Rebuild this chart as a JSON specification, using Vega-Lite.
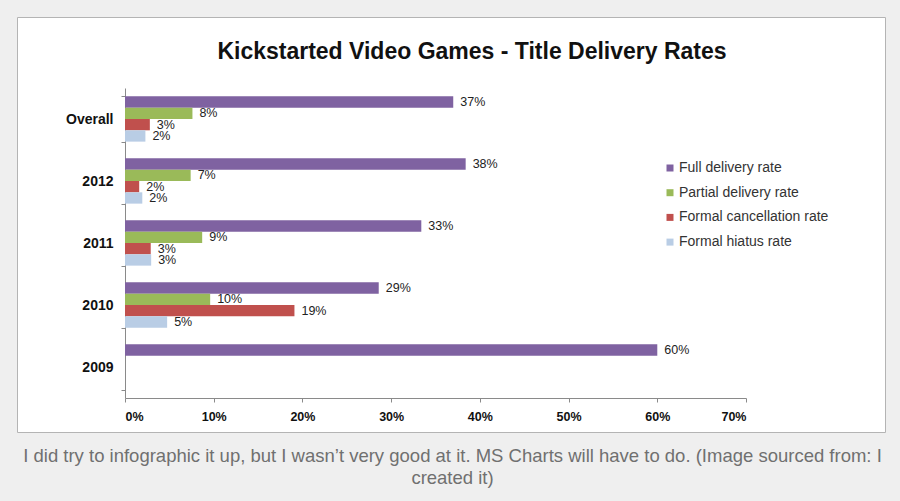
{
  "$schema": "https://vega.github.io/schema/vega-lite/v6.json",
  "autosize": {"type": "none"},
  "width": 868,
  "height": 415,
  "padding": {"left": 17, "top": 17, "right": 15, "bottom": 69},
  "background": "#efefef",
  "config": {
    "font": "Liberation Sans",
    "view": {"fill": "white", "stroke": "#b4b4b4", "strokeWidth": 1}
  },
  "title": {
    "text": "Kickstarted Video Games - Title Delivery Rates",
    "font": "Liberation Sans",
    "fontSize": 23,
    "fontWeight": "bold",
    "color": "#111111",
    "anchor": "middle",
    "frame": "group",
    "offset": 0,
    "dx": 21,
    "dy": 54
  },
  "data": {
    "values": [
      {"cat": "Overall", "series": "Full delivery rate", "v": 0.370},
      {"cat": "Overall", "series": "Partial delivery rate", "v": 0.076},
      {"cat": "Overall", "series": "Formal cancellation rate", "v": 0.028},
      {"cat": "Overall", "series": "Formal hiatus rate", "v": 0.023},
      {"cat": "2012", "series": "Full delivery rate", "v": 0.384},
      {"cat": "2012", "series": "Partial delivery rate", "v": 0.074},
      {"cat": "2012", "series": "Formal cancellation rate", "v": 0.016},
      {"cat": "2012", "series": "Formal hiatus rate", "v": 0.0195},
      {"cat": "2011", "series": "Full delivery rate", "v": 0.334},
      {"cat": "2011", "series": "Partial delivery rate", "v": 0.087},
      {"cat": "2011", "series": "Formal cancellation rate", "v": 0.029},
      {"cat": "2011", "series": "Formal hiatus rate", "v": 0.0295},
      {"cat": "2010", "series": "Full delivery rate", "v": 0.286},
      {"cat": "2010", "series": "Partial delivery rate", "v": 0.096},
      {"cat": "2010", "series": "Formal cancellation rate", "v": 0.191},
      {"cat": "2010", "series": "Formal hiatus rate", "v": 0.0475},
      {"cat": "2009", "series": "Full delivery rate", "v": 0.600}
    ]
  },
  "encoding": {
    "y": {
      "field": "cat",
      "type": "nominal",
      "sort": ["Overall", "2012", "2011", "2010", "2009"],
      "scale": {"range": [71, 381], "paddingInner": 0.27, "paddingOuter": 0.135},
      "axis": {
        "title": null,
        "offset": -108,
        "domainColor": "#8a8a8a",
        "tickColor": "#8a8a8a",
        "tickBand": "extent",
        "tickSize": 4,
        "labelPadding": 8,
        "labelFont": "Liberation Sans",
        "labelFontSize": 14,
        "labelFontWeight": "bold",
        "labelColor": "#111111"
      }
    },
    "yOffset": {
      "field": "series",
      "type": "nominal",
      "sort": ["Full delivery rate", "Partial delivery rate", "Formal cancellation rate", "Formal hiatus rate"],
      "scale": {"paddingInner": 0, "paddingOuter": 0}
    },
    "x": {
      "field": "v",
      "type": "quantitative",
      "scale": {"domain": [0, 0.7], "range": [108, 729], "nice": false},
      "axis": {
        "format": ".0%",
        "values": [0, 0.1, 0.2, 0.3, 0.4, 0.5, 0.6, 0.7],
        "offset": -34,
        "grid": false,
        "domainColor": "#8a8a8a",
        "tickColor": "#8a8a8a",
        "tickSize": 4,
        "labelPadding": 8,
        "labelFont": "Liberation Sans",
        "labelFontSize": 12.5,
        "labelFontWeight": "bold",
        "labelColor": "#111111",
        "title": ["I did try to infographic it up, but I wasn’t very good at it. MS Charts will have to do. (Image sourced from: I", "created it)"],
        "titleFont": "Liberation Sans",
        "titleFontSize": 18.5,
        "titleFontWeight": "normal",
        "titleColor": "#707070",
        "titleX": 435,
        "titleY": 48,
        "titleBaseline": "top",
        "titleLineHeight": 22,
        "titleAlign": "center",
        "titleAnchor": "middle"
      }
    }
  },
  "layer": [
    {
      "mark": {"type": "bar"},
      "encoding": {
        "color": {
          "field": "series",
          "type": "nominal",
          "sort": ["Full delivery rate", "Partial delivery rate", "Formal cancellation rate", "Formal hiatus rate"],
          "scale": {
            "domain": ["Full delivery rate", "Partial delivery rate", "Formal cancellation rate", "Formal hiatus rate"],
            "range": ["#7f62a1", "#9aba59", "#c0504d", "#b9cde5"]
          },
          "legend": {
            "orient": "none",
            "legendX": 646,
            "legendY": 144,
            "title": null,
            "symbolType": "square",
            "symbolSize": 49,
            "symbolStrokeWidth": 0,
            "labelFont": "Liberation Sans",
            "labelFontSize": 14,
            "labelColor": "#333333",
            "labelOffset": 2,
            "rowPadding": 10.7,
            "padding": 0
          }
        }
      }
    },
    {
      "mark": {"type": "text", "align": "left", "baseline": "middle", "dx": 7, "font": "Liberation Sans", "fontSize": 12.5, "color": "#222222"},
      "encoding": {
        "text": {"field": "v", "type": "quantitative", "format": ".0%"}
      }
    }
  ]
}
